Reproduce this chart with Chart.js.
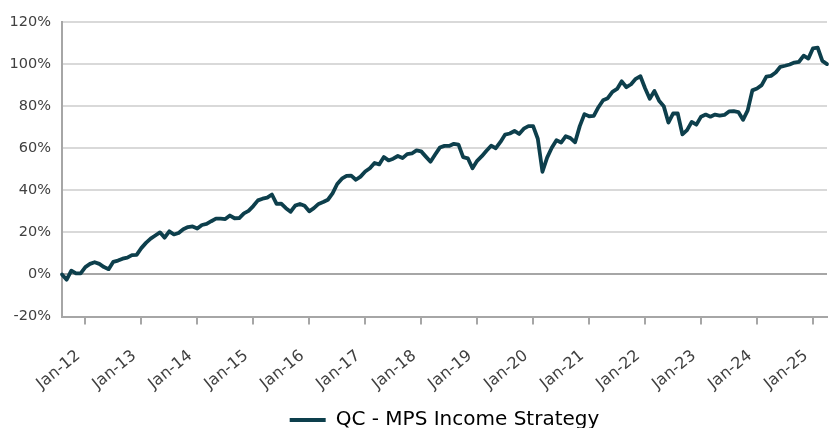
<!DOCTYPE html>
<html>
<head>
<meta charset="utf-8">
<script src="https://cdn.jsdelivr.net/npm/chart.js@4"></script>
<style>
  html, body { margin: 0; padding: 0; background: #fff; }
  #wrap { width: 836px; height: 428px; overflow: hidden; }
</style>
</head>
<body>
<div id="wrap"><canvas id="perfChart" width="836" height="440"></canvas></div>
<script>
// monthly points, Aug-11 .. Apr-25
const months = ["Jan", "Feb", "Mar", "Apr", "May", "Jun", "Jul", "Aug", "Sep", "Oct", "Nov", "Dec"];
const startYear = 2011;
const startMonth = 7; // Aug
const seriesName = "QC - MPS Income Strategy";

const cumulativeReturn = [
    0, -2.5, 1.8, 0.5, 0.5, 3.5, 5, 5.8, 5, 3.5, 2.5,
    6, 6.6, 7.5, 8, 9.2, 9.3, 12.5, 15, 17, 18.5,
    20, 17.5, 20.5, 19, 19.7, 21.5, 22.5, 22.8, 21.8, 23.5,
    24, 25.3, 26.5, 26.5, 26.3, 28, 26.7, 26.8, 29, 30.2,
    32.5, 35.2, 36, 36.5, 38, 33.5, 33.7, 31.5, 29.8, 32.7,
    33.5, 32.6, 30, 31.5, 33.5, 34.4, 35.5, 38.5, 43, 45.5,
    46.8, 47, 45, 46.5, 48.9, 50.5, 53, 52.3, 55.8, 54.2,
    55, 56.3, 55.3, 57.2, 57.5, 59, 58.5, 56, 53.6, 57,
    60.3, 61.1, 61.1, 62.1, 61.7, 55.8, 55.2, 50.5, 54, 56.2, 58.8,
    61.2, 60, 63, 66.5, 67, 68.2, 66.8, 69.3, 70.5, 70.5,
    64.5, 48.8, 55.5, 60.2, 63.8, 62.7, 65.7, 64.8, 62.8, 70.5,
    76.2, 75.2, 75.4, 79.5, 82.8, 83.8, 86.8, 88.2, 91.8, 89,
    90.4, 93, 94.2, 88.5, 83.5, 87.2, 82.6, 80, 72.2, 76.5,
    76.5, 66.6, 68.6, 72.5, 71.2, 75, 76, 75, 76, 75.5,
    75.8, 77.5, 77.6, 77.2, 73.5, 78, 87.5, 88.4, 90, 94,
    94.4, 96, 98.7, 99.2, 99.8, 100.7, 101.1, 104, 102.6, 107.5, 107.8, 101.5, 100
];

const yTicks = [-20, 0, 20, 40, 60, 80, 100, 120];

const labels = cumulativeReturn.map((v, i) => {
    const m = startMonth + i;
    const yr = startYear + Math.floor(m / 12);
    return months[m % 12] + "-" + String(yr).slice(2);
});

const lineColor = "#0d3f4c";
const textColor = "#404040";
const font = "'DejaVu Sans', sans-serif";

new Chart(document.getElementById("perfChart"), {
    type: "line",
    data: {
        labels,
        datasets: [{
            label: seriesName,
            data: cumulativeReturn,
            borderColor: lineColor,
            backgroundColor: lineColor,
            borderWidth: 3.8,
            borderJoinStyle: "round",
            borderCapStyle: "round",
            pointRadius: 0,
            tension: 0
        }]
    },
    options: {
        responsive: false,
        animation: false,
        devicePixelRatio: 1,
        layout: { padding: { top: 22, right: 9, left: 0, bottom: 0 } },
        plugins: {
            tooltip: { enabled: false },
            legend: {
                position: "bottom",
                fullSize: false,
                labels: {
                    color: textColor,
                    font: { family: font, size: 20 },
                    boxWidth: 36,
                    boxHeight: 4,
                    padding: 10,
                    generateLabels: (chart) => chart.data.datasets.map((ds, i) => ({
                        text: ds.label,
                        fillStyle: lineColor,
                        strokeStyle: lineColor,
                        lineWidth: 0,
                        datasetIndex: i
                    }))
                }
            }
        },
        scales: {
            x: {
                afterFit: (scale) => {
                    scale.height = 83.5;
                    // big label padding shouldn't eat into the plot width
                    scale.paddingLeft = 0;
                    scale.paddingRight = 0;
                },
                grid: {
                    drawOnChartArea: false,
                    drawTicks: true,
                    tickLength: 8,
                    lineWidth: 2,
                    tickColor: (ctx) => (ctx.tick && ctx.tick.label) ? "#a6a6a6" : "rgba(0,0,0,0)"
                },
                border: { color: "#a6a6a6", width: 2 },
                ticks: {
                    autoSkip: false,
                    minRotation: 39,
                    maxRotation: 39,
                    padding: 22,
                    labelOffset: -7,
                    color: textColor,
                    font: { family: font, size: 16 },
                    callback: function (value) {
                        const lab = this.getLabelForValue(value);
                        return lab.startsWith("Jan") ? lab : null;
                    }
                }
            },
            y: {
                min: -20,
                max: 120,
                afterFit: (scale) => { scale.width = 62; },
                afterBuildTicks: (scale) => { scale.ticks = yTicks.map(v => ({ value: v })); },
                grid: {
                    drawTicks: false,
                    lineWidth: 2,
                    color: (ctx) => (ctx.tick && ctx.tick.value === 0) ? "#a6a6a6" : "#d9d9d9"
                },
                border: { color: "#a6a6a6", width: 2 },
                ticks: {
                    padding: 11,
                    color: textColor,
                    font: { family: font, size: 14.5 },
                    callback: (v) => v + "%"
                }
            }
        }
    }
});
</script>
</body>
</html>
